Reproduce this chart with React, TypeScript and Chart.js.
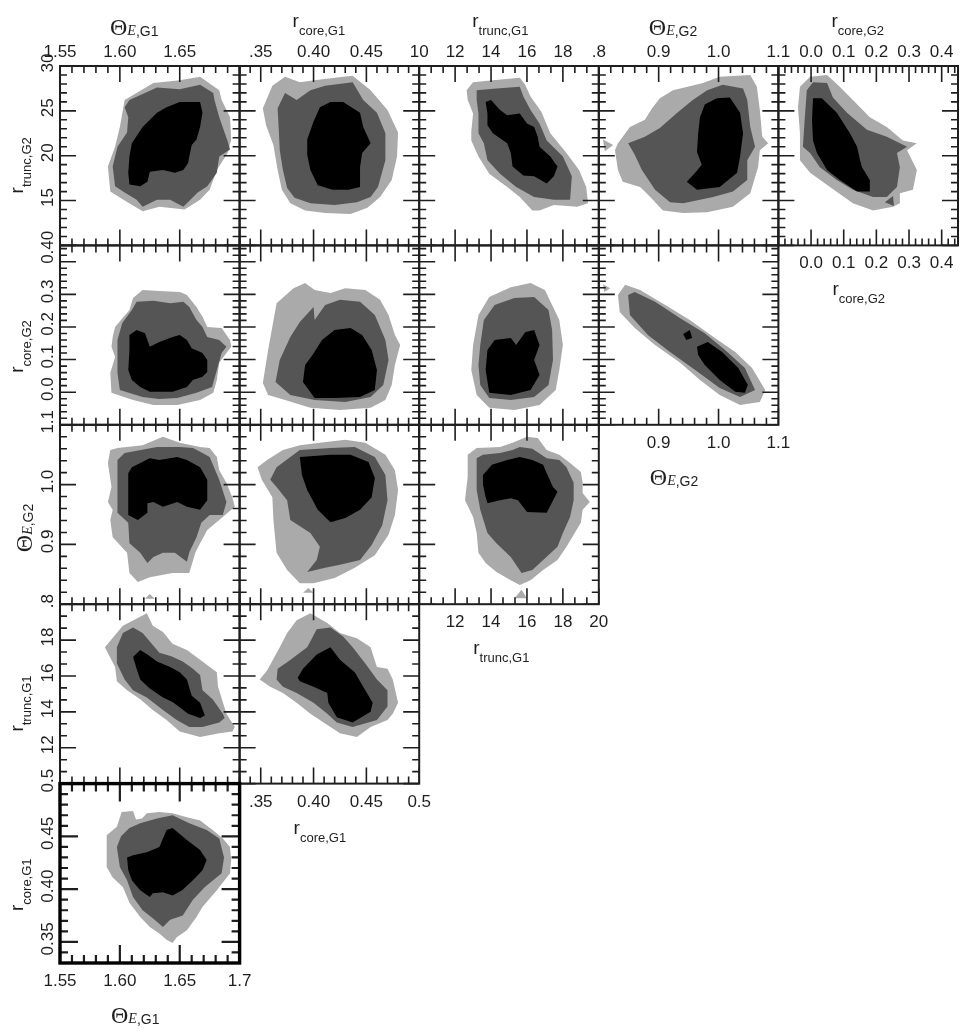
import { useEffect, useRef } from "react";
import { Chart, registerables } from "chart.js";

Chart.register(...registerables);

type Pt = [number, number];
type Lbl = [number, string];

const PAGE_W = 966;
const PAGE_H = 1032;
const GRID_LEFT = 60;
const GRID_TOP = 66;
const CELL_W = 179.6;
const CELL_H = 179.4;

const LIGHT = "#aaaaaa";
const DARK = "#555555";
const BLACK = "#000000";
const INK = "#1e1e1e";
const LABEL_FONT = "17px 'Liberation Sans', Arial, sans-serif";
const THETA_FONT = "24px 'Liberation Serif', 'Times New Roman', serif";
const E_FONT = "italic 14px 'Liberation Serif', 'Times New Roman', serif";
const THETA_SUB_FONT = "14px 'Liberation Sans', Arial, sans-serif";
const SUB_FONT = "13px 'Liberation Sans', Arial, sans-serif";
const R_FONT = "19px 'Liberation Sans', Arial, sans-serif";

// ---------- axes (ranges, major ticks, minor tick steps) ----------
const thetaE1Range = [1.55, 1.7];
const thetaE1Major = [1.55, 1.6, 1.65, 1.7];
const rCore1Range = [0.33, 0.5];
const rCore1Major = [0.35, 0.4, 0.45, 0.5];
const rTrunc1Range = [10, 20];
const rTrunc1Major = [10, 12, 14, 16, 18, 20];
const thetaE2Range = [0.8, 1.1];
const thetaE2Major = [0.8, 0.9, 1.0, 1.1];
const rCore2Range = [-0.1, 0.45];
const rCore2Major = [-0.1, 0, 0.1, 0.2, 0.3, 0.4];
const rTrunc2Range = [10, 30];
const rTrunc2Major = [10, 15, 20, 25, 30];

// ---------- tick labels ----------
const thetaE1TopLabels: Lbl[] = [[1.55, "1.55"], [1.6, "1.60"], [1.65, "1.65"]];
const thetaE1BottomLabels: Lbl[] = [[1.55, "1.55"], [1.6, "1.60"], [1.65, "1.65"], [1.7, "1.7"]];
const rCore1TopLabels: Lbl[] = [[0.35, ".35"], [0.4, "0.40"], [0.45, "0.45"]];
const rCore1BottomLabels: Lbl[] = [[0.35, ".35"], [0.4, "0.40"], [0.45, "0.45"], [0.5, "0.5"]];
const rCore1LeftLabels: Lbl[] = [[0.5, "0.5"], [0.45, "0.45"], [0.4, "0.40"], [0.35, "0.35"]];
const rTrunc1TopLabels: Lbl[] = [[10, "10"], [12, "12"], [14, "14"], [16, "16"], [18, "18"]];
const rTrunc1BottomLabels: Lbl[] = [[12, "12"], [14, "14"], [16, "16"], [18, "18"], [20, "20"]];
const rTrunc1LeftLabels: Lbl[] = [[18, "18"], [16, "16"], [14, "14"], [12, "12"]];
const thetaE2TopLabels: Lbl[] = [[0.8, ".8"], [0.9, "0.9"], [1.0, "1.0"], [1.1, "1.1"]];
const thetaE2BottomLabels: Lbl[] = [[0.9, "0.9"], [1.0, "1.0"], [1.1, "1.1"]];
const thetaE2LeftLabels: Lbl[] = [[1.1, "1.1"], [1.0, "1.0"], [0.9, "0.9"], [0.8, ".8"]];
const rCore2TopLabels: Lbl[] = [[0, "0.0"], [0.1, "0.1"], [0.2, "0.2"], [0.3, "0.3"], [0.4, "0.4"]];
const rCore2BottomLabels: Lbl[] = [[0, "0.0"], [0.1, "0.1"], [0.2, "0.2"], [0.3, "0.3"], [0.4, "0.4"]];
const rCore2LeftLabels: Lbl[] = [[0.435, "0.40"], [0.3, "0.3"], [0.2, "0.2"], [0.1, "0.1"], [0, "0.0"]];
const rTrunc2LeftLabels: Lbl[] = [[30, "30"], [25, "25"], [20, "20"], [15, "15"]];

// ---------- contour polygons (68% black, 95% dark, 99% light) ----------
// row 1: r_trunc,G2
const te1_rt2_light: Pt[] = [[1.604,26.2],[1.628,28.1],[1.65,28.4],[1.667,28.8],[1.683,27.3],[1.685,26.2],[1.692,24.3],[1.693,21.8],[1.69,20.3],[1.681,18.4],[1.675,16.2],[1.667,15.1],[1.654,14.0],[1.633,14.3],[1.619,13.8],[1.603,15.1],[1.592,16.0],[1.59,18.8],[1.596,21.0],[1.6,23.2]];
const te1_rt2_dark: Pt[] = [[1.608,26.2],[1.631,27.6],[1.65,27.4],[1.667,27.9],[1.678,27.0],[1.679,26.2],[1.683,24.3],[1.69,21.6],[1.692,20.7],[1.683,19.9],[1.681,18.1],[1.673,16.6],[1.665,15.9],[1.653,14.3],[1.642,15.1],[1.631,15.1],[1.619,14.3],[1.614,15.1],[1.604,15.9],[1.596,16.6],[1.594,18.8],[1.598,21.0],[1.606,22.6],[1.607,24.3],[1.604,25.4]];
const te1_rt2_black: Pt[] = [[1.61,21.4],[1.619,23.2],[1.631,24.8],[1.639,25.4],[1.65,26.0],[1.667,26.0],[1.669,24.8],[1.667,23.2],[1.664,21.8],[1.66,21.2],[1.658,19.9],[1.657,19.2],[1.653,18.4],[1.646,18.1],[1.636,18.4],[1.625,18.2],[1.623,17.1],[1.617,16.6],[1.608,16.8],[1.607,18.1],[1.608,19.9]];

const rc1_rt2_light: Pt[] = [[0.352,25.3],[0.361,27.8],[0.373,28.8],[0.387,28.2],[0.401,28.4],[0.42,28.7],[0.437,28.9],[0.454,27.3],[0.47,25.1],[0.48,22.6],[0.479,19.9],[0.474,17.3],[0.463,15.4],[0.451,14.2],[0.435,13.5],[0.411,13.6],[0.392,13.9],[0.378,14.7],[0.37,16.2],[0.366,18.4],[0.362,21.2],[0.355,23.4]];
const rc1_rt2_dark: Pt[] = [[0.366,25.3],[0.373,27.0],[0.384,26.2],[0.397,27.3],[0.411,27.8],[0.437,28.2],[0.447,26.2],[0.46,24.8],[0.468,22.5],[0.468,19.5],[0.461,16.5],[0.454,15.4],[0.441,14.8],[0.42,14.5],[0.397,14.7],[0.382,15.3],[0.375,16.4],[0.371,18.4],[0.368,20.6],[0.367,23.1]];
const rc1_rt2_black: Pt[] = [[0.406,25.4],[0.416,26.0],[0.428,26.0],[0.444,24.8],[0.447,23.2],[0.454,21.4],[0.446,20.3],[0.444,18.7],[0.444,16.5],[0.433,16.2],[0.418,16.2],[0.404,16.7],[0.397,18.4],[0.394,20.1],[0.394,21.8],[0.4,23.8]];

const rt1_rt2_light: Pt[] = [[12.64,27.3],[13.0,28.2],[14.1,28.4],[15.6,28.7],[15.9,27.9],[16.2,26.6],[16.8,24.9],[17.3,22.5],[18.2,20.3],[18.9,18.4],[19.3,16.5],[19.4,14.7],[18.8,14.3],[17.5,14.5],[16.7,13.9],[16.3,13.9],[15.6,15.4],[14.9,16.5],[13.9,18.0],[13.3,19.9],[12.9,21.7],[12.9,22.7],[13.0,24.7],[12.7,26.2]];
const rt1_rt2_dark: Pt[] = [[13.2,27.3],[14.3,27.5],[15.6,27.7],[15.8,26.6],[16.2,25.1],[16.7,23.6],[17.1,21.7],[18.0,19.9],[18.5,17.7],[18.4,15.1],[17.5,15.1],[16.4,15.4],[15.4,16.5],[14.5,18.0],[13.8,19.5],[13.6,21.4],[13.3,22.5],[13.3,24.7],[13.2,26.2]];
const rt1_rt2_black: Pt[] = [[13.7,26.0],[14.0,26.2],[14.5,25.1],[14.9,24.5],[15.6,24.7],[16.0,23.6],[16.4,23.2],[16.6,22.1],[16.7,21.0],[17.3,19.9],[17.7,18.8],[17.5,17.7],[17.1,16.9],[16.4,17.7],[15.8,17.8],[15.2,18.8],[15.1,20.3],[14.9,21.4],[14.1,22.5],[13.8,23.4],[13.8,24.7]];

const te2_rt2_light: Pt[] = [[0.832,21.4],[0.852,23.2],[0.877,24.0],[0.889,25.3],[0.902,26.4],[0.924,27.3],[0.974,28.1],[1.002,28.8],[1.053,29.0],[1.064,27.7],[1.069,25.1],[1.073,22.1],[1.083,21.4],[1.069,20.6],[1.066,18.7],[1.053,15.8],[1.024,14.3],[0.981,13.7],[0.941,13.6],[0.907,13.9],[0.886,15.4],[0.869,16.5],[0.84,17.1],[0.832,18.4],[0.827,20.6]];
const te2_rt2_lightIsland: Pt[] = [[0.807,21.8],[0.824,21.2],[0.81,20.5]];
const te2_rt2_dark: Pt[] = [[0.849,21.4],[0.877,22.1],[0.902,23.1],[0.931,24.8],[0.957,26.2],[0.981,27.3],[1.007,27.9],[1.041,27.5],[1.048,26.2],[1.053,23.2],[1.061,21.0],[1.048,19.5],[1.048,17.3],[1.024,16.0],[0.991,15.4],[0.941,14.7],[0.919,14.8],[0.894,16.2],[0.872,18.4],[0.86,20.1]];
const te2_rt2_black: Pt[] = [[0.969,24.3],[0.977,25.7],[0.997,26.4],[1.019,26.5],[1.036,24.8],[1.041,22.5],[1.036,19.9],[1.031,18.1],[1.002,16.5],[0.964,16.2],[0.947,17.1],[0.961,18.1],[0.972,19.0],[0.964,20.4],[0.966,22.5]];

const rc2_rt2_light: Pt[] = [[-0.034,27.7],[-0.003,28.8],[0.049,29.0],[0.088,27.7],[0.128,26.2],[0.18,24.3],[0.232,23.2],[0.281,21.7],[0.324,21.4],[0.294,20.6],[0.324,18.4],[0.312,16.2],[0.272,15.8],[0.272,14.7],[0.251,14.3],[0.19,13.9],[0.128,14.7],[0.058,16.5],[-0.003,18.1],[-0.034,19.5],[-0.034,22.5],[-0.04,25.4]];
const rc2_rt2_dark: Pt[] = [[-0.013,27.3],[0.006,28.2],[0.049,28.1],[0.067,26.5],[0.11,24.8],[0.171,22.9],[0.232,22.1],[0.294,21.0],[0.263,20.3],[0.272,18.7],[0.263,16.5],[0.232,15.4],[0.19,15.4],[0.128,16.2],[0.079,17.3],[0.027,18.7],[-0.003,20.3],[-0.025,21.0],[-0.019,24.3]];
const rc2_rt2_darkIsland: Pt[] = [[0.226,14.8],[0.251,15.5],[0.254,14.4]];
const rc2_rt2_black: Pt[] = [[0.006,26.4],[0.033,26.4],[0.079,24.8],[0.119,22.5],[0.141,21.0],[0.15,19.5],[0.156,18.7],[0.18,17.3],[0.18,16.0],[0.141,16.0],[0.088,17.3],[0.049,18.4],[0.018,20.3],[0.006,21.7],[0.003,24.0]];

// row 2: r_core,G2
const te1_rc2_light: Pt[] = [[1.596,0.2],[1.608,0.252],[1.611,0.289],[1.619,0.313],[1.633,0.31],[1.65,0.307],[1.656,0.298],[1.664,0.261],[1.669,0.231],[1.673,0.2],[1.685,0.197],[1.692,0.16],[1.693,0.139],[1.689,0.12],[1.683,0.09],[1.681,0.037],[1.678,-0.002],[1.667,-0.024],[1.648,-0.039],[1.628,-0.039],[1.611,-0.024],[1.593,-0.002],[1.592,0.059],[1.596,0.108],[1.593,0.139],[1.594,0.169]];
const te1_rc2_dark: Pt[] = [[1.598,0.16],[1.602,0.212],[1.61,0.252],[1.614,0.277],[1.628,0.28],[1.642,0.273],[1.653,0.277],[1.658,0.261],[1.664,0.221],[1.669,0.2],[1.673,0.169],[1.683,0.16],[1.689,0.139],[1.685,0.12],[1.681,0.068],[1.677,0.016],[1.664,-0.002],[1.648,-0.018],[1.633,-0.021],[1.619,-0.015],[1.6,0.007],[1.598,0.059],[1.598,0.108]];
const te1_rc2_black: Pt[] = [[1.608,0.175],[1.614,0.191],[1.621,0.181],[1.625,0.139],[1.633,0.154],[1.644,0.169],[1.65,0.175],[1.656,0.16],[1.66,0.135],[1.669,0.12],[1.673,0.099],[1.673,0.062],[1.669,0.047],[1.661,0.037],[1.656,0.016],[1.644,0.001],[1.633,0.001],[1.625,0.001],[1.617,0.016],[1.61,0.037],[1.607,0.068],[1.608,0.129]];

const rc1_rc2_light: Pt[] = [[0.352,0.028],[0.357,0.129],[0.365,0.273],[0.381,0.319],[0.392,0.335],[0.401,0.313],[0.416,0.304],[0.43,0.319],[0.449,0.313],[0.463,0.283],[0.471,0.237],[0.477,0.175],[0.482,0.145],[0.477,0.083],[0.474,0.022],[0.468,-0.024],[0.454,-0.048],[0.425,-0.055],[0.397,-0.048],[0.373,-0.024],[0.357,-0.009]];
const rc1_rc2_dark: Pt[] = [[0.364,0.031],[0.368,0.099],[0.378,0.169],[0.387,0.215],[0.4,0.261],[0.401,0.221],[0.411,0.267],[0.425,0.283],[0.444,0.277],[0.458,0.237],[0.468,0.16],[0.471,0.099],[0.466,0.022],[0.454,-0.015],[0.43,-0.03],[0.401,-0.024],[0.378,-0.009]];
const rc1_rc2_black: Pt[] = [[0.39,0.031],[0.392,0.083],[0.399,0.114],[0.408,0.16],[0.42,0.191],[0.435,0.197],[0.446,0.175],[0.455,0.129],[0.46,0.068],[0.458,0.007],[0.444,-0.015],[0.42,-0.018],[0.401,-0.018]];

const rt1_rc2_light: Pt[] = [[13.0,0.145],[13.3,0.237],[13.9,0.292],[15.1,0.322],[16.2,0.335],[17.0,0.313],[17.4,0.267],[17.8,0.221],[18.0,0.145],[17.8,0.068],[17.6,0.007],[16.7,-0.039],[15.3,-0.055],[13.9,-0.048],[13.2,-0.009],[12.9,0.068]];
const rt1_rc2_dark: Pt[] = [[13.4,0.145],[13.6,0.221],[14.2,0.267],[15.3,0.289],[16.4,0.292],[17.2,0.252],[17.4,0.191],[17.45,0.099],[17.2,0.022],[16.4,-0.015],[15.1,-0.024],[13.9,-0.018],[13.4,0.022],[13.3,0.083]];
const rt1_rc2_black: Pt[] = [[13.7,0.068],[13.8,0.129],[14.2,0.16],[15.1,0.166],[15.4,0.145],[15.9,0.184],[16.4,0.191],[16.7,0.145],[16.4,0.099],[16.7,0.053],[16.2,0.007],[15.1,-0.009],[13.9,-0.002]];

const te2_rc2_light: Pt[] = [[0.832,0.298],[0.844,0.329],[0.869,0.313],[0.911,0.267],[0.952,0.221],[0.994,0.166],[1.028,0.123],[1.056,0.074],[1.078,0.007],[1.069,-0.03],[1.036,-0.039],[1.002,-0.009],[0.969,0.037],[0.936,0.09],[0.894,0.145],[0.86,0.197],[0.835,0.246]];
const te2_rc2_lightIsland: Pt[] = [[0.807,0.331],[0.819,0.319],[0.809,0.307]];
const te2_rc2_dark: Pt[] = [[0.849,0.298],[0.86,0.307],[0.894,0.277],[0.936,0.227],[0.977,0.181],[1.011,0.129],[1.044,0.074],[1.061,0.007],[1.036,-0.015],[1.002,0.013],[0.961,0.068],[0.919,0.123],[0.882,0.175],[0.852,0.237]];
const te2_rc2_black: Pt[] = [[0.964,0.139],[0.982,0.154],[1.006,0.123],[1.033,0.074],[1.049,0.022],[1.044,-0.002],[1.028,0.001],[1.002,0.037],[0.977,0.083],[0.966,0.114]];
const te2_rc2_blackIsland: Pt[] = [[0.941,0.178],[0.952,0.191],[0.956,0.166],[0.946,0.16]];

// row 3: Theta_E,G2
const te1_te2_light: Pt[] = [[1.592,1.058],[1.598,1.061],[1.619,1.066],[1.636,1.08],[1.65,1.07],[1.667,1.063],[1.675,1.061],[1.681,1.046],[1.683,1.024],[1.689,1.003],[1.694,0.978],[1.696,0.963],[1.683,0.941],[1.673,0.924],[1.667,0.902],[1.663,0.886],[1.658,0.852],[1.644,0.852],[1.625,0.845],[1.615,0.837],[1.608,0.852],[1.606,0.886],[1.594,0.912],[1.592,0.941],[1.594,0.958],[1.59,0.971],[1.593,0.996],[1.59,1.036]];
const te1_te2_lightIsland: Pt[] = [[1.621,0.809],[1.625,0.817],[1.629,0.809]];
const te1_te2_dark: Pt[] = [[1.598,1.041],[1.604,1.053],[1.631,1.063],[1.65,1.063],[1.661,1.061],[1.669,1.053],[1.675,1.046],[1.683,1.008],[1.689,0.971],[1.686,0.949],[1.675,0.949],[1.668,0.936],[1.664,0.912],[1.658,0.887],[1.656,0.871],[1.646,0.886],[1.636,0.886],[1.628,0.879],[1.623,0.869],[1.617,0.886],[1.608,0.902],[1.607,0.936],[1.598,0.953],[1.598,0.991],[1.598,1.024]];
const te1_te2_black: Pt[] = [[1.607,1.019],[1.61,1.029],[1.625,1.044],[1.633,1.041],[1.648,1.046],[1.656,1.041],[1.667,1.029],[1.673,1.008],[1.673,0.974],[1.667,0.958],[1.656,0.963],[1.648,0.971],[1.636,0.963],[1.628,0.971],[1.623,0.969],[1.623,0.953],[1.615,0.941],[1.607,0.949],[1.607,0.986]];

const rc1_te2_light: Pt[] = [[0.347,1.029],[0.356,1.041],[0.371,1.058],[0.387,1.066],[0.406,1.07],[0.43,1.075],[0.449,1.07],[0.468,1.05],[0.477,1.024],[0.48,0.991],[0.477,0.949],[0.471,0.916],[0.458,0.882],[0.439,0.861],[0.42,0.844],[0.4,0.835],[0.387,0.835],[0.375,0.857],[0.365,0.886],[0.362,0.941],[0.361,0.979],[0.351,1.008]];
const rc1_te2_lightIsland: Pt[] = [[0.39,0.819],[0.395,0.827],[0.4,0.819]];
const rc1_te2_dark: Pt[] = [[0.359,1.008],[0.365,1.029],[0.387,1.058],[0.416,1.061],[0.439,1.063],[0.458,1.046],[0.468,1.016],[0.47,0.974],[0.465,0.932],[0.455,0.899],[0.444,0.874],[0.425,0.866],[0.411,0.861],[0.394,0.854],[0.403,0.874],[0.406,0.896],[0.397,0.919],[0.378,0.941],[0.375,0.974],[0.365,0.996]];
const rc1_te2_black: Pt[] = [[0.387,1.046],[0.4,1.048],[0.416,1.05],[0.435,1.05],[0.452,1.038],[0.458,1.011],[0.455,0.979],[0.444,0.958],[0.43,0.944],[0.416,0.937],[0.404,0.958],[0.394,0.991],[0.389,1.016]];

const rt1_te2_light: Pt[] = [[12.7,1.05],[13.2,1.061],[14.5,1.063],[15.2,1.07],[16.0,1.08],[16.6,1.078],[17.1,1.058],[17.8,1.05],[18.4,1.036],[19.0,1.021],[19.1,1.003],[19.1,0.986],[19.5,0.971],[19.1,0.958],[19.0,0.936],[18.2,0.896],[17.7,0.874],[16.9,0.857],[16.2,0.84],[15.6,0.832],[15.1,0.84],[14.3,0.854],[13.7,0.869],[13.3,0.886],[13.2,0.919],[13.0,0.946],[12.55,0.974],[12.7,1.013]];
const rt1_te2_lightIsland: Pt[] = [[15.3,0.81],[15.7,0.824],[16.0,0.81]];
const rt1_te2_dark: Pt[] = [[13.2,1.044],[13.55,1.05],[14.5,1.053],[15.2,1.058],[15.6,1.063],[16.3,1.06],[17.1,1.044],[17.8,1.041],[18.2,1.029],[18.6,1.003],[18.6,0.974],[18.4,0.946],[18.0,0.919],[17.7,0.896],[16.3,0.857],[15.7,0.852],[15.1,0.879],[14.3,0.902],[13.8,0.919],[13.4,0.958],[13.2,0.991],[13.2,1.024]];
const rt1_te2_black: Pt[] = [[13.55,1.016],[14.05,1.033],[14.9,1.041],[15.6,1.046],[16.3,1.041],[16.9,1.033],[17.1,1.019],[17.45,0.996],[17.7,0.988],[17.1,0.953],[16.0,0.954],[15.5,0.974],[15.1,0.977],[14.5,0.974],[13.8,0.969],[13.7,0.979],[13.55,1.0]];

// row 4: r_trunc,G1
const te1_rt1_light: Pt[] = [[1.5875,17.6],[1.6025,18.8],[1.6225,19.5],[1.6275,18.8],[1.636,18.45],[1.644,17.8],[1.656,17.45],[1.667,16.9],[1.681,16.2],[1.682,15.4],[1.689,13.9],[1.696,13.15],[1.694,12.9],[1.683,12.8],[1.667,12.6],[1.65,12.9],[1.639,13.55],[1.6275,14.1],[1.617,14.7],[1.606,15.2],[1.5975,15.7],[1.596,16.5]];
const te1_rt1_dark: Pt[] = [[1.5975,17.6],[1.6025,18.4],[1.611,18.7],[1.619,18.4],[1.633,17.3],[1.643,17.1],[1.6525,16.8],[1.661,16.4],[1.667,16.05],[1.669,15.2],[1.6775,14.7],[1.686,13.9],[1.6875,13.65],[1.683,13.4],[1.669,13.15],[1.658,13.15],[1.6475,13.55],[1.636,14.1],[1.6225,14.8],[1.611,15.2],[1.604,15.8],[1.5975,16.7]];
const te1_rt1_black: Pt[] = [[1.611,17.05],[1.617,17.45],[1.623,17.2],[1.631,16.8],[1.642,16.5],[1.65,16.2],[1.656,15.8],[1.66,14.9],[1.667,14.5],[1.671,13.8],[1.667,13.65],[1.657,13.9],[1.644,14.55],[1.636,14.8],[1.625,15.3],[1.617,15.8],[1.614,16.4]];

const rc1_rt1_light: Pt[] = [[0.349,15.8],[0.356,16.3],[0.368,17.6],[0.375,18.4],[0.384,19.1],[0.397,19.5],[0.413,18.95],[0.425,18.4],[0.441,18.1],[0.454,17.6],[0.46,16.5],[0.47,16.4],[0.475,15.8],[0.48,14.5],[0.475,13.9],[0.47,13.55],[0.454,13.15],[0.441,12.6],[0.425,12.8],[0.416,13.15],[0.397,13.9],[0.384,14.5],[0.371,15.05],[0.359,15.4]];
const rc1_rt1_dark: Pt[] = [[0.365,15.8],[0.366,16.4],[0.376,16.8],[0.394,17.6],[0.403,18.6],[0.416,18.7],[0.428,18.2],[0.437,17.6],[0.449,16.7],[0.46,15.8],[0.47,15.2],[0.47,14.3],[0.46,13.55],[0.437,13.15],[0.422,13.4],[0.413,13.9],[0.4,14.5],[0.384,15.05],[0.371,15.4]];
const rc1_rt1_black: Pt[] = [[0.385,15.9],[0.39,16.4],[0.403,17.2],[0.416,17.6],[0.425,16.9],[0.439,16.2],[0.447,15.4],[0.456,14.5],[0.454,14.0],[0.437,13.4],[0.422,13.7],[0.414,14.5],[0.413,15.05],[0.4,15.4],[0.387,15.7]];

// row 5: r_core,G1
const te1_rc1_light: Pt[] = [[1.589,0.451],[1.5975,0.459],[1.6015,0.473],[1.611,0.474],[1.6135,0.466],[1.6185,0.467],[1.6225,0.472],[1.633,0.473],[1.644,0.472],[1.656,0.468],[1.667,0.465],[1.6775,0.456],[1.686,0.448],[1.692,0.44],[1.693,0.4275],[1.692,0.415],[1.681,0.399],[1.669,0.383],[1.664,0.3735],[1.656,0.361],[1.6475,0.3545],[1.644,0.349],[1.639,0.352],[1.633,0.358],[1.625,0.364],[1.617,0.3735],[1.608,0.387],[1.6025,0.402],[1.594,0.411],[1.589,0.421],[1.589,0.44]];
const te1_rc1_dark: Pt[] = [[1.5975,0.44],[1.601,0.45],[1.608,0.458],[1.617,0.4625],[1.631,0.467],[1.644,0.47],[1.658,0.4625],[1.6725,0.456],[1.683,0.448],[1.687,0.43],[1.685,0.415],[1.671,0.402],[1.661,0.39],[1.6525,0.375],[1.642,0.371],[1.636,0.364],[1.6275,0.3725],[1.619,0.38],[1.611,0.3925],[1.606,0.4085],[1.6,0.421]];
const te1_rc1_black: Pt[] = [[1.606,0.43],[1.611,0.432],[1.6225,0.435],[1.633,0.44],[1.636,0.448],[1.639,0.456],[1.644,0.458],[1.656,0.4465],[1.667,0.437],[1.6725,0.4275],[1.669,0.418],[1.661,0.4085],[1.652,0.399],[1.644,0.394],[1.636,0.397],[1.6275,0.396],[1.625,0.3925],[1.617,0.399],[1.61,0.4085],[1.607,0.418]];

// ---------- configuration built from the arrays above ----------
const AXES: any = {
  te1: { range: thetaE1Range, major: thetaE1Major, minorStep: 0.01, top: thetaE1TopLabels, bottom: thetaE1BottomLabels, left: [] },
  rc1: { range: rCore1Range, major: rCore1Major, minorStep: 0.01, top: rCore1TopLabels, bottom: rCore1BottomLabels, left: rCore1LeftLabels },
  rt1: { range: rTrunc1Range, major: rTrunc1Major, minorStep: 2 / 3, top: rTrunc1TopLabels, bottom: rTrunc1BottomLabels, left: rTrunc1LeftLabels },
  te2: { range: thetaE2Range, major: thetaE2Major, minorStep: 0.02, top: thetaE2TopLabels, bottom: thetaE2BottomLabels, left: thetaE2LeftLabels },
  rc2: { range: rCore2Range, major: rCore2Major, minorStep: 0.02, top: rCore2TopLabels, bottom: rCore2BottomLabels, left: rCore2LeftLabels },
  rt2: { range: rTrunc2Range, major: rTrunc2Major, minorStep: 1, top: [], bottom: [], left: rTrunc2LeftLabels },
};

const TITLES: any = {
  te1: { theta: true, segs: [["Θ", THETA_FONT, 0], ["E", E_FONT, 0], [",G1", THETA_SUB_FONT, 1]] },
  te2: { theta: true, segs: [["Θ", THETA_FONT, 0], ["E", E_FONT, 0], [",G2", THETA_SUB_FONT, 1]] },
  rc1: { theta: false, segs: [["r", R_FONT, 0], ["core,G1", SUB_FONT, 8]] },
  rc2: { theta: false, segs: [["r", R_FONT, 0], ["core,G2", SUB_FONT, 8]] },
  rt1: { theta: false, segs: [["r", R_FONT, 0], ["trunc,G1", SUB_FONT, 8]] },
  rt2: { theta: false, segs: [["r", R_FONT, 0], ["trunc,G2", SUB_FONT, 8]] },
};

const COL_VARS = ["te1", "rc1", "rt1", "te2", "rc2"];
const ROW_VARS = ["rt2", "rc2", "te2", "rt1", "rc1"];

const PANELS = [
  { row: 0, col: 0, light: [te1_rt2_light], dark: [te1_rt2_dark], black: [te1_rt2_black] },
  { row: 0, col: 1, light: [rc1_rt2_light], dark: [rc1_rt2_dark], black: [rc1_rt2_black] },
  { row: 0, col: 2, light: [rt1_rt2_light], dark: [rt1_rt2_dark], black: [rt1_rt2_black] },
  { row: 0, col: 3, light: [te2_rt2_light, te2_rt2_lightIsland], dark: [te2_rt2_dark], black: [te2_rt2_black] },
  { row: 0, col: 4, light: [rc2_rt2_light], dark: [rc2_rt2_dark, rc2_rt2_darkIsland], black: [rc2_rt2_black] },
  { row: 1, col: 0, light: [te1_rc2_light], dark: [te1_rc2_dark], black: [te1_rc2_black] },
  { row: 1, col: 1, light: [rc1_rc2_light], dark: [rc1_rc2_dark], black: [rc1_rc2_black] },
  { row: 1, col: 2, light: [rt1_rc2_light], dark: [rt1_rc2_dark], black: [rt1_rc2_black] },
  { row: 1, col: 3, light: [te2_rc2_light, te2_rc2_lightIsland], dark: [te2_rc2_dark], black: [te2_rc2_black, te2_rc2_blackIsland] },
  { row: 2, col: 0, light: [te1_te2_light, te1_te2_lightIsland], dark: [te1_te2_dark], black: [te1_te2_black] },
  { row: 2, col: 1, light: [rc1_te2_light, rc1_te2_lightIsland], dark: [rc1_te2_dark], black: [rc1_te2_black] },
  { row: 2, col: 2, light: [rt1_te2_light, rt1_te2_lightIsland], dark: [rt1_te2_dark], black: [rt1_te2_black] },
  { row: 3, col: 0, light: [te1_rt1_light], dark: [te1_rt1_dark], black: [te1_rt1_black] },
  { row: 3, col: 1, light: [rc1_rt1_light], dark: [rc1_rt1_dark], black: [rc1_rt1_black] },
  { row: 4, col: 0, light: [te1_rc1_light], dark: [te1_rc1_dark], black: [te1_rc1_black] },
];

function minorValues(ax: any): number[] {
  const [lo, hi] = ax.range;
  const out: number[] = [];
  const n = Math.floor((hi - lo) / ax.minorStep + 1e-6);
  for (let i = 0; i <= n; i++) {
    const v = lo + i * ax.minorStep;
    if (!ax.major.some((m: number) => Math.abs(m - v) < 1e-6)) out.push(v);
  }
  return out;
}

function drawRich(ctx: CanvasRenderingContext2D, segs: any[], x: number, y: number) {
  let cx = x;
  ctx.textAlign = "left";
  ctx.textBaseline = "alphabetic";
  for (const [t, f, dy] of segs) {
    ctx.font = f;
    ctx.fillText(t, cx, y + dy);
    cx += ctx.measureText(t).width;
  }
}

function makeAxesPlugin(spec: any) {
  const xKey = COL_VARS[spec.col];
  const yKey = ROW_VARS[spec.row];
  return {
    id: "cornerAxes",
    afterDatasetsDraw(chart: any) {
      const ctx: CanvasRenderingContext2D = chart.ctx;
      const { left, right, top, bottom } = chart.chartArea;
      const xs = chart.scales.x;
      const ys = chart.scales.y;
      const ax = AXES[xKey];
      const ay = AXES[yKey];
      const thick = spec.row === 4;
      const majLen = thick ? 18 : 16;
      const minLen = thick ? 8 : 7;
      ctx.save();
      ctx.strokeStyle = INK;
      ctx.lineWidth = thick ? 2.2 : 1.6;
      ctx.beginPath();
      const xt = (v: number, len: number) => {
        const p = xs.getPixelForValue(v);
        ctx.moveTo(p, top); ctx.lineTo(p, top + len);
        ctx.moveTo(p, bottom); ctx.lineTo(p, bottom - len);
      };
      const yt = (v: number, len: number) => {
        const p = ys.getPixelForValue(v);
        ctx.moveTo(left, p); ctx.lineTo(left + len, p);
        ctx.moveTo(right, p); ctx.lineTo(right - len, p);
      };
      ax.major.forEach((v: number) => xt(v, majLen));
      minorValues(ax).forEach((v) => xt(v, minLen));
      ay.major.forEach((v: number) => yt(v, majLen));
      minorValues(ay).forEach((v) => yt(v, minLen));
      ctx.stroke();
      ctx.lineWidth = thick ? 3.4 : 2;
      ctx.strokeStyle = thick ? "#000" : INK;
      ctx.strokeRect(left, top, right - left, bottom - top);

      ctx.fillStyle = INK;
      ctx.font = LABEL_FONT;
      ctx.textAlign = "center";
      ctx.textBaseline = "alphabetic";
      if (spec.row === 0) {
        for (const [v, t] of ax.top) ctx.fillText(t, xs.getPixelForValue(v), top - 9);
        const ti = TITLES[xKey];
        drawRich(ctx, ti.segs, left + (ti.theta ? 50 : 53), ti.theta ? top - 31 : top - 39);
        ctx.font = LABEL_FONT; ctx.textAlign = "center";
      }
      if (spec.row + spec.col === 4) {
        for (const [v, t] of ax.bottom) ctx.fillText(t, xs.getPixelForValue(v), bottom + 23);
        const ti = TITLES[xKey];
        drawRich(ctx, ti.segs, left + (ti.theta ? 51 : 54), ti.theta ? bottom + 60 : bottom + 50);
        ctx.font = LABEL_FONT; ctx.textAlign = "center";
      }
      if (spec.col === 0) {
        for (const [v, t] of ay.left) {
          ctx.save();
          ctx.translate(left - 7, ys.getPixelForValue(v) - 3);
          ctx.rotate(-Math.PI / 2);
          ctx.fillText(t, 0, 0);
          ctx.restore();
        }
        const ti = TITLES[yKey];
        ctx.save();
        ctx.translate(ti.theta ? left - 28 : left - 37, bottom - 52);
        ctx.rotate(-Math.PI / 2);
        drawRich(ctx, ti.segs, 0, 0);
        ctx.restore();
      }
      ctx.restore();
    },
  };
}

function Panel({ spec }: { spec: any }) {
  const ref = useRef<HTMLCanvasElement | null>(null);
  useEffect(() => {
    const canvas = ref.current;
    if (!canvas) return;
    const xKey = COL_VARS[spec.col];
    const yKey = ROW_VARS[spec.row];
    const pl = GRID_LEFT + spec.col * CELL_W;
    const pt = GRID_TOP + spec.row * CELL_H;
    const layers: any[] = [];
    const add = (polys: Pt[][], color: string, order: number) => {
      for (const poly of polys) {
        layers.push({
          data: poly.map(([x, y]) => ({ x, y })),
          showLine: true,
          fill: "shape",
          backgroundColor: color,
          borderColor: color,
          borderWidth: 0,
          pointRadius: 0,
          pointHoverRadius: 0,
          tension: 0,
          order,
        });
      }
    };
    add(spec.black, BLACK, 1);
    add(spec.dark, DARK, 2);
    add(spec.light, LIGHT, 3);
    const chart = new Chart(canvas, {
      type: "scatter",
      data: { datasets: layers },
      options: {
        responsive: false,
        maintainAspectRatio: false,
        animation: false,
        devicePixelRatio: 1,
        events: [],
        layout: {
          padding: {
            left: pl,
            top: pt,
            right: PAGE_W - (pl + CELL_W),
            bottom: PAGE_H - (pt + CELL_H),
          },
        },
        scales: {
          x: { type: "linear", min: AXES[xKey].range[0], max: AXES[xKey].range[1], display: false },
          y: { type: "linear", min: AXES[yKey].range[0], max: AXES[yKey].range[1], display: false },
        },
        plugins: { legend: { display: false }, tooltip: { enabled: false } },
      },
      plugins: [makeAxesPlugin(spec)],
    } as any);
    return () => chart.destroy();
  }, [spec]);
  return (
    <canvas
      ref={ref}
      width={PAGE_W}
      height={PAGE_H}
      style={{ position: "absolute", left: 0, top: 0, width: PAGE_W, height: PAGE_H, pointerEvents: "none" }}
    />
  );
}

export default function App() {
  return (
    <div style={{ position: "absolute", left: 0, top: 0, width: PAGE_W, height: PAGE_H, background: "#fff", overflow: "hidden" }}>
      {PANELS.map((p, i) => (
        <Panel key={i} spec={p} />
      ))}
    </div>
  );
}
